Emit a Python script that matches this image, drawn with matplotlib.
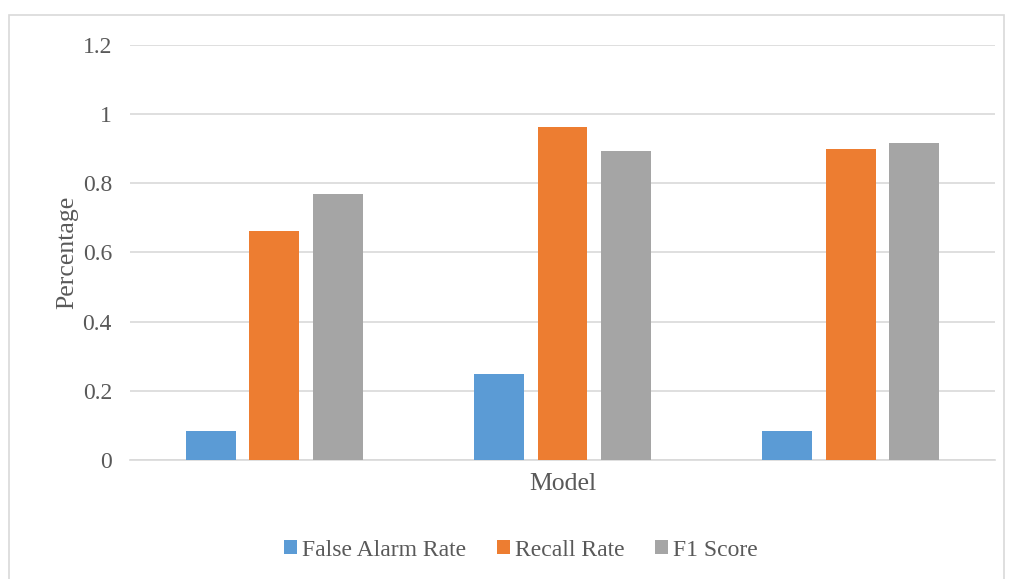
import numpy as np
import matplotlib.pyplot as plt
from matplotlib.patches import Rectangle

# data
models = ["Model A", "Model B", "Model C"]
series_names = ["False Alarm Rate", "Recall Rate", "F1 Score"]
false_alarm = [0.083, 0.25, 0.083]
recall = [0.663, 0.963, 0.899]
f1_score = [0.768, 0.894, 0.917]
colors = ["#5b9bd5", "#ed7d31", "#a5a5a5"]

plt.rcParams['font.family'] = ['Liberation Serif', 'DejaVu Serif']
txt = "#595959"

fig = plt.figure(figsize=(10.09, 5.79), dpi=100)
W, H = 1009, 579
ax = fig.add_axes([130 / W, 1 - 460 / H, (995 - 130) / W, (460 - 45) / H])

# outer chart border
fig.patches.append(Rectangle((9 / W, -0.05), (1004 - 9) / W, 1.05 - 15 / H,
                             transform=fig.transFigure, fill=False,
                             edgecolor="#d9d9d9", linewidth=1.2))

x = np.arange(len(models))
width = 0.173
step = 0.22
for i, (vals, name) in enumerate(zip([false_alarm, recall, f1_score], series_names)):
    ax.bar(x + (i - 1) * step, vals, width, color=colors[i], label=name, zorder=3)

ax.set_xlim(-0.5, 2.5)
ax.set_ylim(0, 1.2)
ax.set_yticks([0, 0.2, 0.4, 0.6, 0.8, 1.0, 1.2])
ax.set_yticklabels(["0", "0.2", "0.4", "0.6", "0.8", "1", "1.2"])
ax.set_xticks([])
ax.yaxis.grid(True, color="#d9d9d9", linewidth=1.2, zorder=0)
ax.set_axisbelow(True)
for s in ["top", "right", "left"]:
    ax.spines[s].set_visible(False)
ax.spines["bottom"].set_color("#d9d9d9")
ax.spines["bottom"].set_linewidth(1.2)
ax.tick_params(axis="y", length=0, pad=13, labelsize=17, labelcolor=txt)

ax.set_xlabel("Model", fontsize=18.5, color=txt, labelpad=9)
ax.set_ylabel("Percentage", fontsize=18.5, color=txt, labelpad=3)

fig.legend(loc="center", bbox_to_anchor=(521 / W, 1 - 550 / H), ncol=3,
           frameon=False, fontsize=17, labelcolor=txt, handlelength=0.55,
           handleheight=0.55, handletextpad=0.2, columnspacing=1.3)

fig.savefig("out.png", dpi=100)
